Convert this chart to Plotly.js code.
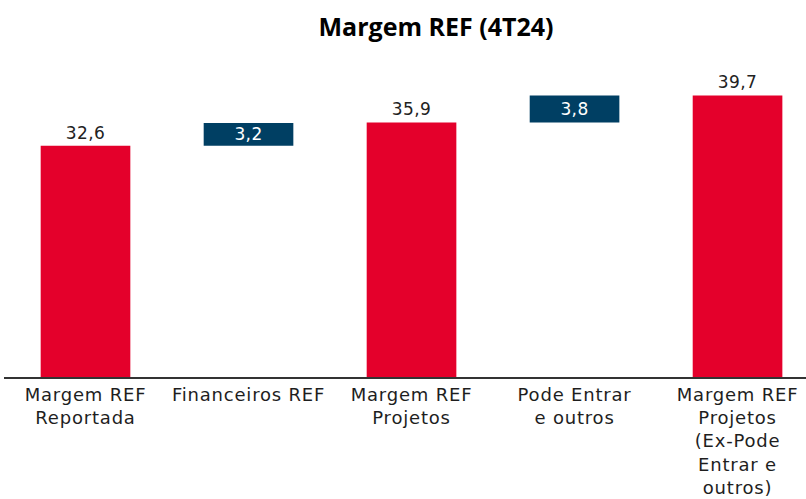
<!DOCTYPE html>
<html>
<head>
<meta charset="utf-8">
<script src="https://cdn.plot.ly/plotly-3.0.1.min.js"></script>
<style>
html,body{margin:0;padding:0;background:#fff;}
#chart{width:806px;height:499px;}
#chart .xtick text{letter-spacing:0.8px;}
#chart text.bartext{letter-spacing:0.4px;}
</style>
</head>
<body>
<div id="chart"></div>
<script>
const categories = [
  "Margem REF<br>Reportada",
  "Financeiros REF",
  "Margem REF<br>Projetos",
  "Pode Entrar<br>e outros",
  "Margem REF<br>Projetos<br>(Ex-Pode<br>Entrar e<br>outros)"
];
const totalIdx = [0, 2, 4];
const totalValues = [32.6, 35.9, 39.7];
const deltaIdx = [1, 3];
const deltaValues = [3.2, 3.8];
const deltaBases = [32.6, 35.9];

const red = "#e4002b";
const blue = "#003f63";
const barWidth = 0.55;

const traces = [
  {
    type: "bar",
    x: totalIdx,
    y: totalValues,
    width: barWidth,
    marker: {color: red},
    texttemplate: "%{y:.1f}",
    textposition: "outside",
    textfont: {family: "DejaVu Sans, sans-serif", size: 17, color: "#222"},
    constraintext: "none",
    cliponaxis: false,
    hoverinfo: "skip"
  },
  {
    type: "bar",
    x: deltaIdx,
    y: deltaValues,
    base: deltaBases,
    width: barWidth,
    marker: {color: blue},
    texttemplate: "%{y:.1f}",
    textposition: "inside",
    insidetextanchor: "middle",
    textangle: 0,
    textfont: {family: "DejaVu Sans, sans-serif", size: 17, color: "#fff"},
    constraintext: "none",
    hoverinfo: "skip"
  }
];

const layout = {
  width: 806,
  height: 499,
  margin: {l: 4, r: 0, t: 60, b: 122},
  paper_bgcolor: "#fff",
  plot_bgcolor: "#fff",
  separators: ",.",
  showlegend: false,
  barmode: "overlay",
  title: {
    text: "<b>Margem REF (4T24)</b>",
    font: {family: "Open Sans, sans-serif", size: 25, color: "#000"},
    x: 0.541,
    xanchor: "center",
    y: 0.945,
    yanchor: "middle"
  },
  xaxis: {
    range: [-0.5, 4.42],
    tickvals: [0, 1, 2, 3, 4],
    ticktext: categories,
    showgrid: false,
    zeroline: false,
    showline: true,
    linecolor: "#333",
    linewidth: 2,
    ticks: "",
    ticklabelstandoff: 0,
    tickfont: {family: "DejaVu Sans, sans-serif", size: 18, color: "#1e1e1e"},
    fixedrange: true
  },
  yaxis: {
    range: [0, 44.7],
    visible: false,
    showgrid: false,
    zeroline: false,
    fixedrange: true
  }
};

Plotly.newPlot("chart", traces, layout, {displayModeBar: false, staticPlot: true});
</script>
</body>
</html>
